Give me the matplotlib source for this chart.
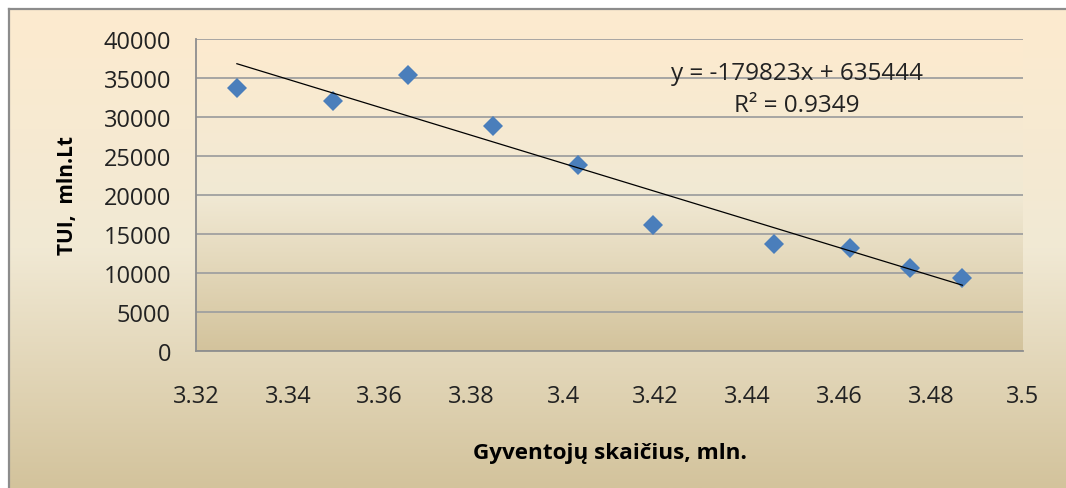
import numpy as np
import matplotlib.pyplot as plt
from matplotlib.colors import LinearSegmentedColormap

plt.rcParams['font.family'] = ['Open Sans', 'DejaVu Sans']

# population (mln.) vs TUI (mln. Lt)
gyventojai = [3.3289, 3.3498, 3.3662, 3.3847, 3.4031, 3.4195, 3.4457, 3.4624, 3.4754, 3.4868]
tui = [33700, 32000, 35400, 28900, 23850, 16150, 13700, 13200, 10650, 9350]

# trend line coefficients as printed
slope = -179823
intercept = 635444
r2 = 0.9349

x_ticks = [3.32, 3.34, 3.36, 3.38, 3.4, 3.42, 3.44, 3.46, 3.48, 3.5]
x_labels = ['3.32', '3.34', '3.36', '3.38', '3.4', '3.42', '3.44', '3.46', '3.48', '3.5']
y_ticks = list(range(0, 40001, 5000))

W, H = 1066, 489
fig = plt.figure(figsize=(W / 100, H / 100), dpi=100)
fig.patch.set_facecolor('white')

parchment = LinearSegmentedColormap.from_list(
    'parchment', [(0.0, '#fdebcf'), (0.5, '#f1e9d4'), (1.0, '#d3c39c')])
grad = np.linspace(0, 1, 256).reshape(-1, 1)

# chart area background with border on the left/top
bg = fig.add_axes([9 / W, 0, 1 - 9 / W, (H - 10) / H], zorder=0)
bg.imshow(grad, cmap=parchment, aspect='auto', extent=[0, 1, 0, 1])
bg.set_xlim(0, 1)
bg.set_ylim(0, 1)
bg.set_xticks([])
bg.set_yticks([])
for side in ['right', 'bottom']:
    bg.spines[side].set_visible(False)
for side in ['left', 'top']:
    bg.spines[side].set_color('#8c8c8c')
    bg.spines[side].set_linewidth(1.6)

ax = fig.add_axes([196 / W, (H - 352) / H, 827 / W, 312 / H], zorder=1)
ax.set_xlim(3.32, 3.5)
ax.set_ylim(0, 40000)
ax.imshow(grad, cmap=parchment, aspect='auto',
          extent=[3.32, 3.5, 0, 40000], zorder=0)

ax.set_yticks(y_ticks)
ax.set_xticks(x_ticks)
ax.set_xticklabels(x_labels)
ax.grid(axis='y', color='#a0a0a0', linewidth=1.3, zorder=1)
ax.tick_params(length=0, labelsize=17, colors='#222222')
ax.tick_params(axis='y', pad=18)
ax.tick_params(axis='x', pad=24)
ax.spines['top'].set_visible(False)
ax.spines['right'].set_visible(False)
for side in ['left', 'bottom']:
    ax.spines[side].set_color('#8e8e8e')
    ax.spines[side].set_linewidth(1.3)

ax.plot(gyventojai, tui, linestyle='none', marker='D', markersize=10,
        color='#4a7ebb', markeredgewidth=0, zorder=3)

xs = np.array([min(gyventojai), max(gyventojai)])
ax.plot(xs, slope * xs + intercept, color='black', linewidth=0.9, zorder=4)

ax.text(3.4508, 33600, f'y = {slope}x + {intercept}\nR² = {r2}',
        ha='center', va='center', fontsize=17.5, color='#222222',
        linespacing=1.45, zorder=5)

ax.set_xlabel('Gyventojų skaičius, mln.', fontsize=16.2, fontweight='bold',
              labelpad=24, color='black')
ax.set_ylabel('TUI,  mln.Lt', fontsize=15, fontweight='bold',
              labelpad=18, color='black')

fig.savefig('out.png', dpi=100)
